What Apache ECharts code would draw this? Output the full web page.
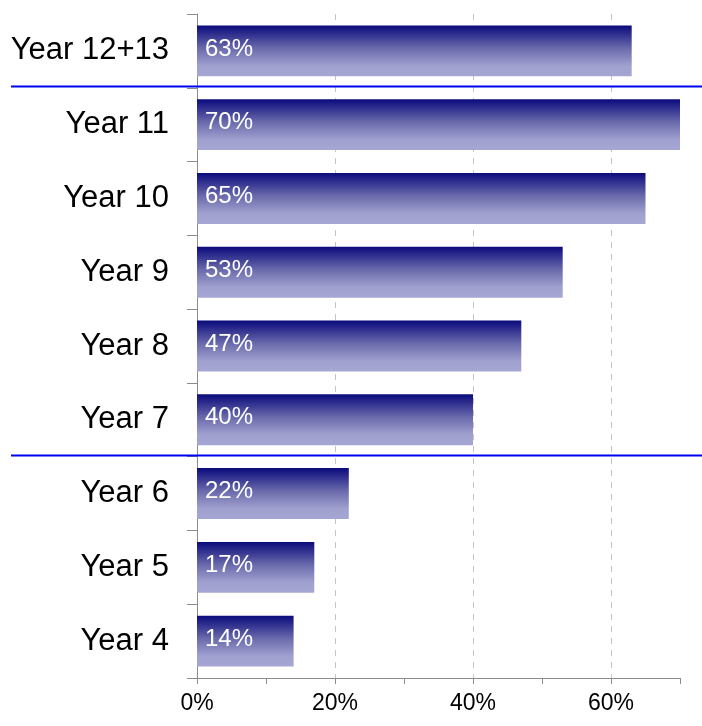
<!DOCTYPE html>
<html>
<head>
<meta charset="utf-8">
<script src="https://cdn.jsdelivr.net/npm/echarts@6/dist/echarts.min.js"></script>
<style>
  html, body { margin: 0; padding: 0; background: #fff; }
  #chart { width: 702px; height: 726px; }
</style>
</head>
<body>
<div id="chart"></div>
<script>
// School years, listed top to bottom
const years = ['Year 12+13', 'Year 11', 'Year 10', 'Year 9', 'Year 8', 'Year 7', 'Year 6', 'Year 5', 'Year 4'];
// Share for each year, in percent
const shares = [63, 70, 65, 53, 47, 40, 22, 17, 14];
// Percent values shown along the bottom axis
const tickLabels = [0, 20, 40, 60];
// Group breaks: a separator is drawn after these years
const groupBreaksAfter = ['Year 12+13', 'Year 7'];

const FONT = '"Liberation Sans", Arial, sans-serif';
const chart = echarts.init(document.getElementById('chart'));

const barFill = new echarts.graphic.LinearGradient(0, 0, 0, 1, [
  { offset: 0, color: '#0a0a7c' },
  { offset: 0.45, color: '#6a6aac' },
  { offset: 0.8, color: '#a1a1d0' },
  { offset: 1, color: '#a6a6d4' }
]);

chart.setOption({
  animation: false,
  grid: { left: 197, right: 22, top: 14, bottom: 48 },
  xAxis: {
    type: 'value',
    min: 0,
    max: 70,
    interval: 10,
    axisLine: { show: true, lineStyle: { color: '#8c8c8c', width: 1 } },
    axisTick: { show: true, length: 6, lineStyle: { color: '#8c8c8c' } },
    axisLabel: {
      color: '#000',
      fontFamily: FONT,
      fontSize: 23,
      margin: 14,
      formatter: v => tickLabels.indexOf(v) >= 0 ? v + '%' : ''
    },
    splitLine: {
      show: true,
      showMinLine: true,
      showMaxLine: true,
      lineStyle: { color: ['#c4c4c4', 'rgba(0,0,0,0)'], type: [6, 6], width: 1 }
    }
  },
  yAxis: {
    type: 'category',
    data: years,
    inverse: true,
    axisLine: { show: true, lineStyle: { color: '#8c8c8c', width: 1 } },
    axisTick: { show: true, length: 10, alignWithLabel: false, lineStyle: { color: '#8c8c8c' } },
    axisLabel: {
      color: '#000',
      fontFamily: FONT,
      fontSize: 31,
      margin: 28
    }
  },
  series: [{
    type: 'bar',
    data: shares,
    barCategoryGap: '31%',
    itemStyle: { color: barFill },
    label: {
      show: true,
      position: 'insideLeft',
      distance: 8,
      offset: [0, -2],
      color: '#fff',
      fontFamily: FONT,
      fontSize: 24,
      formatter: p => p.value + '%'
    }
  }]
});

// Blue separators between year groups, placed at the category boundaries
const separators = groupBreaksAfter.map(name => {
  const i = years.indexOf(name);
  const y0 = chart.convertToPixel({ yAxisIndex: 0 }, years[i]);
  const y1 = chart.convertToPixel({ yAxisIndex: 0 }, years[i + 1]);
  const y = Math.round((y0 + y1) / 2) - 1.5;
  return {
    type: 'line',
    z: 10,
    shape: { x1: 11, y1: y, x2: 702, y2: y },
    style: { stroke: '#0000f0', lineWidth: 2 }
  };
});
chart.setOption({ graphic: separators });
</script>
</body>
</html>
